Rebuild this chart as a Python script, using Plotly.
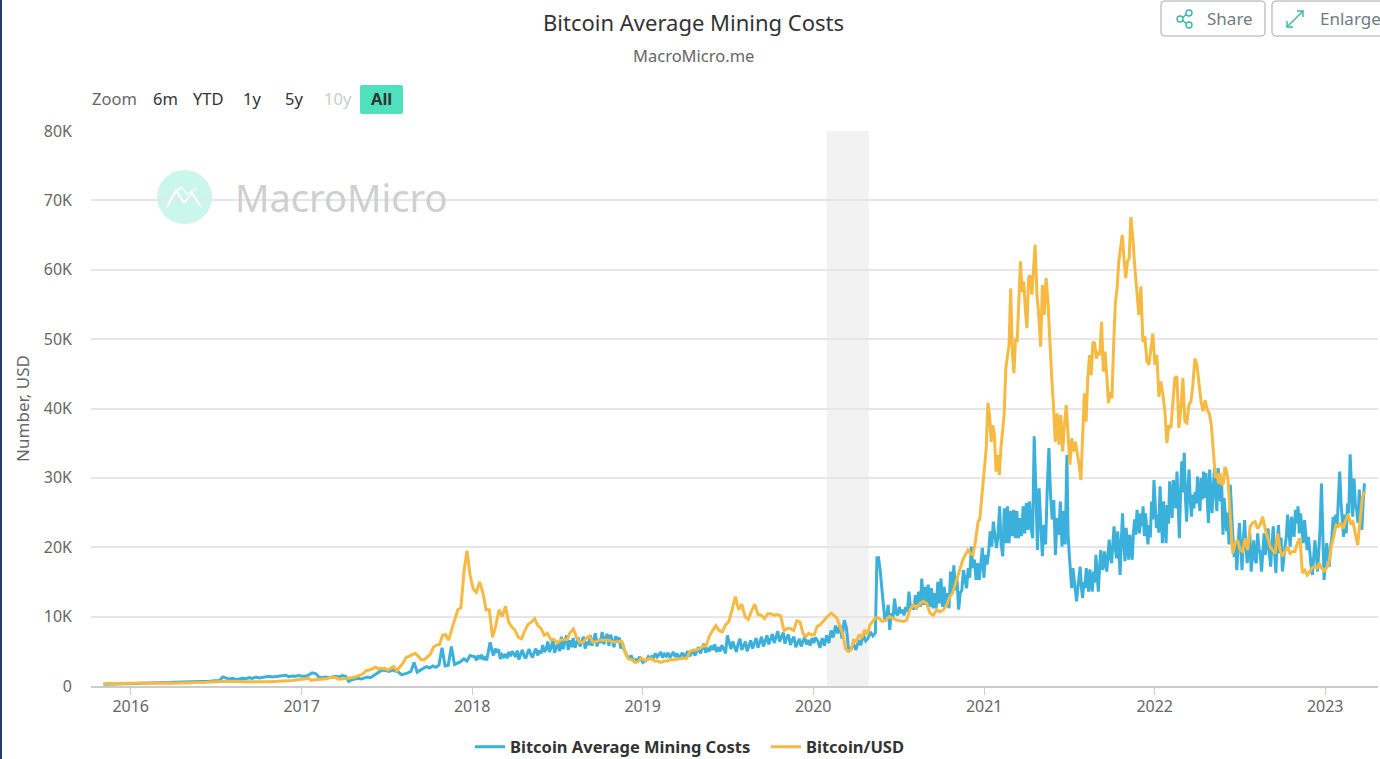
import numpy as np
import pandas as pd
import plotly.graph_objects as go

# ---------- values, in thousands of USD ----------
cost_2015 = [0.25, 0.25, 0.27, 0.3, 0.3, 0.32, 0.35]
cost_2016a = [0.35, 0.38, 0.4, 0.4, 0.42, 0.45, 0.45, 0.5, 0.5, 0.55, 0.55, 0.6, 0.6, 0.62, 0.7, 0.7, 0.75, 0.8]
cost_2016b = [1.3, 1.2, 1.0, 1.1, 0.95, 1.0, 1.1, 1.05, 1.2, 1.1, 1.3, 1.15, 1.25, 1.3, 1.4, 1.3, 1.35, 1.4, 1.5, 1.55, 1.35, 1.45, 1.4, 1.5, 1.4]
cost_2017a = [1.4, 1.6, 1.9, 1.8, 1.3, 1.2, 1.3, 1.2, 1.3, 1.4, 1.3, 1.5, 1.4]
cost_2017b = [0.65, 0.9, 1.0, 1.1, 1.0, 1.2, 1.3, 1.2, 1.5, 1.9, 2.1, 2.3, 2.2, 2.1, 2.3, 2.2, 2.0, 1.6, 1.7, 1.9, 2.1, 3.4, 2.0, 2.3, 2.5, 2.8, 2.6, 2.9, 2.7, 3.0, 5.5, 2.9, 3.0, 5.7, 3.1, 3.3, 3.5, 3.9, 3.6, 4.4, 4.2]
cost_2018 = [4.2, 3.7, 4.4, 3.9, 4.5, 3.8, 4.1, 3.7, 5.0, 6.3, 5.2, 4.4, 5.4, 4.8, 5.3, 3.9, 4.5, 4.2, 4.6, 4.0, 4.9, 4.3, 5.0, 4.5, 4.2, 5.1, 3.8, 4.6, 5.2, 4.3, 4.0, 4.8, 5.3, 4.5, 4.1, 4.9, 5.4, 4.4, 5.1, 4.7, 5.9, 4.9, 5.3, 6.4, 4.9, 5.6, 6.6, 4.8, 5.7, 6.3, 5.0, 7.1, 5.3, 6.2, 7.3, 5.2, 6.6, 5.6, 6.9, 5.5, 6.3, 7.0, 5.7, 6.6, 7.1, 5.4, 6.4, 5.9, 7.3, 5.8, 6.7, 7.6, 5.7, 6.8, 6.2, 7.8, 6.0, 7.0, 7.5, 5.8, 7.4, 6.5, 5.6, 7.2, 6.3, 7.0, 5.4, 6.2, 5.2, 4.7, 4.2, 4.0, 4.4, 3.9, 3.4, 3.8, 3.6, 4.2, 3.7, 3.4, 3.6]
cost_2019 = [3.7, 4.2, 3.8, 4.4, 4.0, 4.7, 4.2, 4.5, 4.9, 4.1, 4.6, 4.3, 4.8, 4.1, 4.5, 4.9, 4.2, 4.7, 4.0, 4.4, 4.8, 4.1, 4.6, 5.0, 4.3, 4.8, 5.1, 4.4, 5.0, 5.6, 4.7, 5.3, 6.1, 4.8, 5.5, 5.0, 5.8, 5.2, 6.0, 4.9, 5.6, 5.0, 5.9, 5.3, 4.7, 7.3, 6.2, 5.3, 6.4, 5.5, 4.9, 6.1, 6.8, 5.2, 5.9, 6.4, 5.0, 5.7, 6.6, 5.4, 6.2, 6.9, 5.5, 6.3, 7.1, 5.7, 6.5, 7.3, 6.0, 6.7, 7.5, 6.2, 7.0, 7.9, 6.4, 7.2, 7.7, 6.1, 7.0, 7.4, 5.9, 6.6, 7.1, 5.6, 6.3, 6.8, 5.7, 6.4, 7.1, 6.0, 6.6, 5.8, 6.9, 6.2, 7.0]
cost_2020a = [6.5, 5.5, 6.9, 5.8, 7.3, 6.2, 8.0, 7.0, 8.7, 7.6, 8.8, 6.8, 9.5, 8.3, 5.0]
cost_2020b = [5.4, 6.0, 5.2, 6.6, 5.9, 7.4, 6.5, 6.9, 7.8, 7.2, 7.6]
cost_2020c = [18.5, 18.5, 16.7, 14.3, 11.4, 9.3, 10, 11.7, 8.1, 10.5, 9.8, 12.6, 10.5, 10.2, 11.4, 10.5, 11, 10.2, 11.4, 10.7, 13.6, 11.2, 11.7, 11, 13.1, 11.7, 13.6, 11.4, 15.5, 11.7, 14.3, 11.7, 14.6, 11.4, 14.1, 11.2, 13.4, 11.2, 15, 11.9, 15.5, 11.4, 14.3, 11.4, 13.4, 11.2, 16.5, 13.4, 17.4, 13.8, 15.3, 11, 13.4, 13.8, 16.7, 15.3]
cost_2021a = [14.1, 17, 15.6, 20.1, 17, 18.2, 15.3, 17.7, 15.3, 17.5, 19.9, 15.6, 18.9, 17.5, 19.2, 22.3, 20.1, 23.7, 21.8, 19.9, 21.6, 25.9, 20.4, 18.7, 25.6, 20.6, 25.9, 20.6, 25.2, 21.6, 25.4, 21.3, 25.2, 21.3, 24.2, 21.6, 25.9, 22, 26.4, 22.5, 26.6, 22.8, 21.3, 36]
cost_2021b = [28.5, 19.6, 28.5, 22.8, 18.7, 23.2, 20.4, 28.5, 34.3, 27.6, 24, 26.8, 18.9, 24.2, 21.8, 26.6, 20.1, 25.2, 20.4, 33.3]
cost_2021c = [21.8, 18.9, 16, 14.1, 17, 15, 13.6, 12.2, 14, 16, 17.2, 14.3, 12.7, 15, 14.1, 17, 14.6, 13.6, 16.8, 15.1, 13.6, 16.5, 14.9, 18.9, 15.8, 13.6, 17, 19.6, 16.8, 17, 19.4, 17.5, 16.5, 19, 21.1, 18.4, 17.7, 20.5, 23, 20, 18.4, 22.3, 19.6, 16, 21, 24.9, 20.7, 18, 22.8, 20.1, 18.2, 21.8, 19.3, 18.2, 22, 24, 21.8, 25.4, 23.2, 22, 24.9, 23, 25.9, 21.6, 24.9, 22.4, 20.4, 23.2, 21.4, 26.6, 24, 29.7, 25.8, 22.8, 24.7, 22.1, 28.8, 24.5, 20.6, 26.6, 23.1, 20.6, 26.1, 23.4, 29.5, 26.2, 24.2, 29.7, 27.1, 25.6, 30.9, 26.3, 21.3, 28, 32.4, 27.9, 33.6, 27.1, 23.7, 28.2, 31.2, 26.8, 24.4, 27.6, 25.6, 28, 26.3, 30.2, 27.2, 25.2, 30, 26.9, 30.9, 27.1, 30.7, 27.8, 23.5, 31.2, 27.4, 24.9, 28.5, 31.4, 27.7, 25.2, 31.4, 28.2, 26.6, 29, 21.8, 27.1, 24.4, 22.3, 25, 20.4]
cost_2022 = [29, 24, 21.5, 18.6, 20.6, 16.7, 19.8, 23.5, 20.2, 16.7, 20.8, 23.9, 20.1, 17.7, 19.6, 22.1, 16.5, 19.3, 21, 18.2, 17.7, 22, 19.8, 19.1, 16.5, 19.4, 22, 18.9, 21.2, 22.7, 19.1, 17.2, 20.6, 23, 19.2, 16.3, 20.7, 23.2, 19.1, 21.4, 16.5, 18.8, 20.1, 21.5, 24.7, 22.3, 20.1, 24.4, 22.6, 21.5, 25.4, 23.4, 25.9, 22, 24.9, 22.7, 20.6, 23.9, 21.8, 19.6, 21.5, 19.1, 17.4, 16, 18.7, 21, 18.8, 16.5, 19.6, 22.9, 29.2, 21, 15.3, 18.2, 20.6, 18.7, 17.2, 19.9, 21.5, 24.4, 22.8, 24.7, 23, 27, 30.9, 26.4, 23, 21.5, 24.7, 22, 26.3, 24.9, 33.4, 27.6, 24.4, 29.9, 26.2, 25.4, 23.5, 28.3, 25.1, 22.5, 26.4, 29.2]

btc_2015 = [0.32, 0.38, 0.33, 0.36, 0.42, 0.45, 0.43]
btc_2016 = [0.43, 0.45, 0.38, 0.41, 0.37, 0.40, 0.43, 0.42, 0.41, 0.42, 0.42, 0.42, 0.45, 0.46, 0.45, 0.53, 0.58, 0.62, 0.72, 0.68, 0.65, 0.67, 0.65, 0.60, 0.58, 0.58, 0.60, 0.61, 0.62, 0.64, 0.72, 0.74, 0.73, 0.78, 0.90, 0.96]
btc_2017 = [1.0, 1.15, 0.8, 0.9, 0.92, 1.0, 1.0, 1.03, 1.2, 1.28, 1.2, 0.97, 1.0, 1.09, 1.2, 1.2, 1.25, 1.35, 1.55, 1.8, 2.2, 2.3, 2.5, 2.7, 2.5, 2.5, 2.55, 2.3, 2.6, 2.8, 2.2, 2.7, 3.3, 4.1, 4.3, 4.4, 4.7, 4.3, 3.8, 3.8, 4.2, 4.6, 5.6, 5.9, 6.0, 7.3, 7.4, 6.6, 8.2, 9.7, 11.0, 11.3, 16.5, 19.5, 16, 14]
btc_2018 = [13.5, 15.0, 13.5, 11, 11, 7, 8.7, 11, 10, 11.5, 9.2, 8.5, 8, 7, 6.8, 8, 8.9, 9.2, 9.7, 8.7, 8.3, 7.3, 7.6, 6.7, 6.7, 6.2, 6.6, 6.7, 6.7, 7.7, 8.2, 7.0, 6.3, 6.3, 6.9, 7.2, 6.3, 6.4, 6.6, 6.6, 6.6, 6.6, 6.4, 6.3, 6.4, 6.4, 4.8, 3.9, 3.8, 3.4, 3.5, 4.0, 3.7]
btc_2019 = [3.8, 4.0, 3.6, 3.6, 3.4, 3.6, 3.6, 3.8, 3.8, 3.9, 3.9, 4.0, 4.0, 5.0, 5.2, 5.2, 5.4, 5.7, 5.8, 7.2, 8.0, 8.7, 8.0, 7.8, 8.8, 9.3, 11.0, 12.9, 11.0, 11.8, 10.0, 9.6, 10.8, 11.8, 10.3, 10.2, 9.7, 10.4, 10.4, 10.2, 10.3, 10.1, 8.0, 8.3, 8.3, 8.0, 9.4, 9.2]
btc_2020a = [7.6, 7.1, 7.6, 7.4, 7.4, 8.6, 8.8, 9.3, 9.8, 10.2, 10.5, 10.2, 9.8, 8.6, 7.6, 5.4, 5]
btc_2020b = [5.2, 6.6, 6.4, 7.4, 6.9, 8.1, 7.4, 8.8, 9.3, 9.8]
btc_2020c = [9.8, 9.3, 9.5, 10, 9.8, 9.5, 9.4, 9.3, 9.5]
btc_2020d = [11, 11.7, 11.2, 11.9, 12.2, 11.9, 10.5, 10.2, 11, 10.7, 11, 11.7, 12.9]
btc_2020e = [13.4, 14.6, 15.8, 17, 18.2, 18.9, 19.6, 19.1, 18.9, 21, 23.7]
btc_2021a = [24, 26.6, 29, 31.9, 34.3, 40.8, 39.1, 35.2, 37.6, 36.2, 30.9, 33.3, 30.4, 34.3, 36.7, 39.1, 45.8, 47.2, 49.2, 57.3, 48.2, 45.1, 50.1, 49.6, 55.9, 61.2, 56.8, 58.3, 54.4, 51.6, 58.8, 59.2, 56.4, 59.7, 63.6]
btc_2021b = [56.4, 53.5, 48.9, 57.8, 53.5, 58.8, 55.4, 49.6, 44.8, 40.5, 35.2, 39.3, 34.8, 39.1, 33.8, 37.6, 40.5, 36.2, 31.9, 35.7, 33.8, 35.2, 33.8, 31.9, 29.7]
btc_2021c = [36.7, 42.2, 38.1, 44.4, 47.7, 44.8, 49.6, 49.4, 47.2, 48.2, 47.7, 52.5, 45.3, 48.2, 44.8, 40.8, 42.4, 41.5, 49.2, 55.2, 57.3, 61.2, 63.1, 65, 61.6, 58.8, 61.2, 61.6, 67.6]
btc_2021d = [64.5, 60.2, 56.8, 53.5, 57.6, 49.6, 50.4, 46.8, 46.3, 48.7, 50.8, 46.3, 47.7, 41.7, 43.9, 42, 39.6, 35, 37.6, 37.2, 41.5, 44.4, 44.6, 37.2, 40, 44.4, 38.1, 37.9, 40.5, 41, 43.4, 47.2]
btc_2022a = [46.3, 43.4, 41, 39.6, 41.2, 39.8, 39.3, 37.6, 34.3, 30]
btc_2022b = [30.7, 29.2, 30.7, 29, 29.2, 31.6, 31.1, 29.7, 25.9, 22.5, 19.1]
btc_2022c = [20.6, 21, 19.6, 19.4, 21.3, 19.6, 23, 23.5, 23.7, 22.7, 23.2, 24.4, 22.7, 21.5, 20.1, 19.6, 19.1, 22, 19.6, 18.7, 19.4, 20.1, 19.1, 19.4, 19.4, 20.6, 21.3]
btc_2022d = [16.3, 16.7, 16, 16.5, 17, 17.2, 17, 17.7, 17, 16.6, 17, 17.7, 20.1, 21.5, 23.2, 23, 23.5, 22.7, 23.9, 24.7, 23.5, 23.7, 22, 20.3, 23.9, 27.3, 28]

cost_breaks = ["2015-10-25", "2016-01-01", "2016-07-09", "2017-01-02", "2017-04-05", "2018-01-03", "2019-01-05",
               "2020-01-06", "2020-03-17", "2020-05-13", "2020-11-21", "2021-04-18", "2021-06-27", "2022-06-09", "2023-03-26"]
cost_parts = [cost_2015, cost_2016a, cost_2016b, cost_2017a, cost_2017b, cost_2018, cost_2019,
              cost_2020a, cost_2020b, cost_2020c, cost_2021a, cost_2021b, cost_2021c, cost_2022]
btc_breaks = ["2015-10-25", "2016-01-01", "2017-01-02", "2018-01-03", "2019-01-05", "2019-12-04", "2020-03-16",
              "2020-05-13", "2020-07-19", "2020-10-20", "2020-12-19", "2021-04-20", "2021-07-27", "2021-11-11",
              "2022-03-28", "2022-05-11", "2022-06-17", "2022-11-08", "2023-03-27"]
btc_parts = [btc_2015, btc_2016, btc_2017, btc_2018, btc_2019, btc_2020a, btc_2020b, btc_2020c, btc_2020d,
             btc_2020e, btc_2021a, btc_2021b, btc_2021c, btc_2021d, btc_2022a, btc_2022b, btc_2022c, btc_2022d]

year_ticks = ["2016-01-01", "2017-01-01", "2018-01-01", "2019-01-01", "2020-01-01", "2021-01-01", "2022-01-01", "2023-01-01"]
year_labels = ["2016", "2017", "2018", "2019", "2020", "2021", "2022", "2023"]
y_ticks = [0, 10000, 20000, 30000, 40000, 50000, 60000, 70000, 80000]
y_labels = ["0", "10K", "20K", "30K", "40K", "50K", "60K", "70K", "80K"]
band = ["2020-01-30", "2020-04-29"]
x_range = ["2015-10-08", "2023-04-24"]


def assemble(breaks, parts):
    xs, ys = [], []
    for a, b, vals in zip(breaks[:-1], breaks[1:], parts):
        t0, t1 = pd.Timestamp(a).value, pd.Timestamp(b).value
        stamps = np.linspace(t0, t1, len(vals) + 1)[1:]
        xs += list(pd.to_datetime(stamps.astype("int64")))
        ys += [v * 1000 for v in vals]
    return xs, ys


FONT = "Noto Sans"
L, R, T, B = 91, 1378, 131, 686
W, H = R - L, B - T
px = lambda x: (x - L) / W
py = lambda y: (B - y) / H

fig = go.Figure()
cx, cy = assemble(cost_breaks, cost_parts)
bx, by = assemble(btc_breaks, btc_parts)
fig.add_trace(go.Scatter(x=cx, y=cy, mode="lines", name="Bitcoin Average Mining Costs",
                         line=dict(color="#3bb0da", width=3)))
fig.add_trace(go.Scatter(x=bx, y=by, mode="lines", name="Bitcoin/USD",
                         line=dict(color="#f6b942", width=3)))


def pshape(kind, x0, y0, x1, y1, **kw):
    return dict(type=kind, xref="paper", yref="paper", x0=px(x0), x1=px(x1), y0=py(y0), y1=py(y1), **kw)


def rounded(x0, y0, x1, y1, r):
    P = lambda x, y: f"{px(x):.5f} {py(y):.5f}"
    return (f"M {P(x0 + r, y0)} L {P(x1 - r, y0)} Q {P(x1, y0)} {P(x1, y0 + r)} L {P(x1, y1 - r)} "
            f"Q {P(x1, y1)} {P(x1 - r, y1)} L {P(x0 + r, y1)} Q {P(x0, y1)} {P(x0, y1 - r)} "
            f"L {P(x0, y0 + r)} Q {P(x0, y0)} {P(x0 + r, y0)} Z")


def polyline(points):
    return "M " + " L ".join(f"{px(x):.5f} {py(y):.5f}" for x, y in points)


def path(d, **kw):
    return dict(type="path", xref="paper", yref="paper", path=d, **kw)


GREEN = "#3cb79c"
shapes = [
    dict(type="rect", xref="x", yref="paper", x0=band[0], x1=band[1], y0=0, y1=1,
         fillcolor="rgba(0,0,0,0.05)", line_width=0, layer="below"),
    pshape("rect", 0, 0, 2, 759, fillcolor="#1c3f6e", line_width=0),
    # watermark
    pshape("circle", 157, 170, 212, 224, fillcolor="rgba(79,224,189,0.30)", line_width=0, layer="below"),
    path(polyline([(167, 207), (176, 190), (184, 203), (192, 193), (201, 207)]), line=dict(color="#ffffff", width=1.8)),
    path(polyline([(172, 197), (181, 187), (187, 194), (197, 188)]), line=dict(color="#ffffff", width=1.4)),
    # range button
    path(rounded(360, 85, 403, 114, 2), fillcolor="#4fe0bd", line_width=0),
    # share / enlarge buttons
    path(rounded(1161, 1, 1265, 36, 4), fillcolor="#ffffff", line=dict(color="#a6a6a6", width=1)),
    path(rounded(1272, 1, 1392, 36, 4), fillcolor="#ffffff", line=dict(color="#a6a6a6", width=1)),
    pshape("circle", 1177, 16, 1183, 22, line=dict(color=GREEN, width=1.4)),
    pshape("circle", 1186, 10, 1192, 16, line=dict(color=GREEN, width=1.4)),
    pshape("circle", 1186, 22, 1192, 28, line=dict(color=GREEN, width=1.4)),
    path(polyline([(1183, 17.5), (1186, 14.5)]), line=dict(color=GREEN, width=1.4)),
    path(polyline([(1183, 20.5), (1186, 23.5)]), line=dict(color=GREEN, width=1.4)),
    path(polyline([(1287, 27), (1303, 11)]), line=dict(color=GREEN, width=1.4)),
    path(polyline([(1297, 11), (1303, 11), (1303, 17)]), line=dict(color=GREEN, width=1.4)),
    path(polyline([(1287, 21), (1287, 27), (1293, 27)]), line=dict(color=GREEN, width=1.4)),
]
fig.update_layout(shapes=shapes)


def label(text, x, y, size=16, color="#333333", anchor="center", **kw):
    fig.add_annotation(text=text, xref="paper", yref="paper", x=px(x), y=py(y), xanchor=anchor, yanchor="middle",
                       showarrow=False, font=dict(family=FONT, size=size, color=color, **kw))


label("Bitcoin Average Mining Costs", 693, 22, size=22, color="#333333")
label("MacroMicro.me", 693, 55, size=16.5, color="#666666")
label("Zoom", 114, 99, size=16.5, color="#666666")
label("6m", 165, 99, size=16.5)
label("YTD", 208, 99, size=16.5)
label("1y", 252, 99, size=16.5)
label("5y", 294, 99, size=16.5)
label("10y", 338, 99, size=16.5, color="#cccccc")
label("All", 381, 99, size=16.5, weight="bold")
label("MacroMicro", 341, 197, size=38, color="#cfcfcf")
label("Share", 1230, 18, size=17, color="#6f7b83")
label("Enlarge", 1318, 18, size=17, color="#6f7b83", anchor="left")

fig.update_layout(
    width=1380, height=759, margin=dict(l=L, r=1380 - R, t=T, b=759 - B, autoexpand=False),
    paper_bgcolor="#ffffff", plot_bgcolor="#ffffff", hovermode=False,
    font=dict(family=FONT, color="#666666", size=16),
    legend=dict(orientation="h", x=px(470), xanchor="left", y=py(747), yanchor="middle",
                font=dict(family=FONT, size=16.5, color="#333333", weight="bold"), itemwidth=30,
                entrywidth=251, entrywidthmode="pixels", bgcolor="rgba(0,0,0,0)"),
    xaxis=dict(type="date", range=x_range, tickvals=year_ticks, ticktext=year_labels, showgrid=False,
               showline=True, linecolor="#cccccc", linewidth=1.5, ticks="outside", ticklen=7, tickcolor="#cccccc",
               ticklabelstandoff=-2, tickfont=dict(family=FONT, size=16, color="#666666"), zeroline=False),
    yaxis=dict(range=[0, 80000], tickvals=y_ticks, ticktext=y_labels, showgrid=True, gridcolor="#e6e6e6", gridwidth=1.5,
               zeroline=False, ticks="", ticklabelstandoff=18,
               tickfont=dict(family=FONT, size=16, color="#666666"),
               title=dict(text="Number, USD", font=dict(family=FONT, size=17, color="#666666"), standoff=9)),
)

fig.write_html("out.html", config={"displayModeBar": False},
               post_script="document.body.style.margin='0';document.body.style.overflow='hidden';")
